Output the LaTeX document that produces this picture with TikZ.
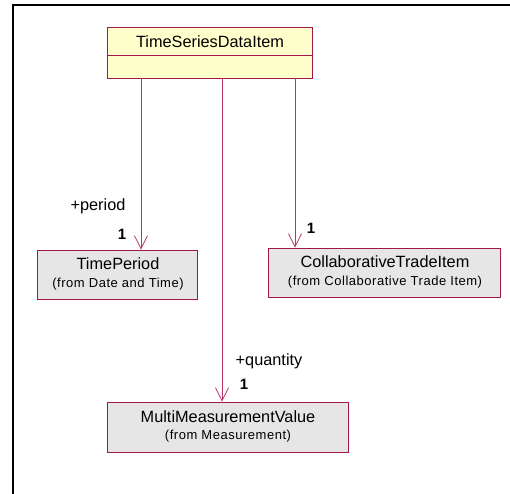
\documentclass[tikz,border=0pt]{standalone}
\usepackage{fontspec}
\setmainfont{Liberation Sans}
\newfontfamily\spacedfont[LetterSpace=4]{Liberation Sans}
\usetikzlibrary{arrows.meta}
\definecolor{umlborder}{HTML}{A3174A}
\definecolor{umlline}{HTML}{B8336A}
\definecolor{umlyellow}{HTML}{FFFFCC}
\definecolor{umlgray}{HTML}{E6E6E6}
\tikzset{
  classbox/.style={draw=umlborder, line width=0.9pt, rectangle, inner sep=0pt},
  yellowbox/.style={classbox, fill=umlyellow},
  graybox/.style={classbox, fill=umlgray},
  nametext/.style={font=\fontsize{16.3}{16.3}\selectfont, inner sep=0pt},
  fromtext/.style={font=\spacedfont\fontsize{13}{13}\selectfont, inner sep=0pt},
  roletext/.style={font=\fontsize{16.3}{16.3}\selectfont, inner sep=0pt},
  multtext/.style={font=\bfseries\fontsize{15}{15}\selectfont, inner sep=0pt},
  assoc/.style={draw=umlline, line width=0.8pt, -{Straight Barb[length=13pt,width=13pt,line width=0.8pt]}}
}
\begin{document}
\begin{tikzpicture}[x=1pt,y=-1pt]
\useasboundingbox (0,0) rectangle (510,493);
\fill[white] (0,0) rectangle (510,493);
% frame
\draw[line width=2pt] (13,500) -- (13,5) -- (520,5);
% classes
\node[yellowbox, minimum width=205pt, minimum height=51pt] (tsdi) at (209.5,52.5) {};
\draw[umlborder, line width=0.9pt] (tsdi.west |- 0,55) -- (tsdi.east |- 0,55);
\node[nametext] (tsdiname) at (210,42) {TimeSeriesDataItem};

\node[graybox, minimum width=160pt, minimum height=49pt] (tp) at (117,274.5) {};
\node[nametext] (tpname) at (118,264) {TimePeriod};
\node[fromtext] (tpfrom) at (118,284.5) {(from Date and Time)};

\node[graybox, minimum width=232pt, minimum height=49pt] (cti) at (384,272.5) {};
\node[nametext] (ctiname) at (385,262) {CollaborativeTradeItem};
\node[fromtext] (ctifrom) at (385,282.5) {(from Collaborative Trade Item)};

\node[graybox, minimum width=241pt, minimum height=50pt] (mmv) at (227.5,427) {};
\node[nametext] (mmvname) at (228,417) {MultiMeasurementValue};
\node[fromtext] (mmvfrom) at (228,436.5) {(from Measurement)};

% associations
\draw[assoc] (141,0 |- tsdi.south) -- (141,0 |- tp.north);
\draw[assoc] (222,0 |- tsdi.south) -- (222,0 |- mmv.north);
\draw[assoc] (295,0 |- tsdi.south) -- (295,0 |- cti.north);

% labels
\node[roletext] (lperiod) at (98,206) {+period};
\node[multtext] (mperiod) at (122,234) {1};
\node[multtext] (mcti) at (311,228) {1};
\node[roletext] (lquantity) at (269,361) {+quantity};
\node[multtext] (mquantity) at (244,384) {1};
\end{tikzpicture}
\end{document}
